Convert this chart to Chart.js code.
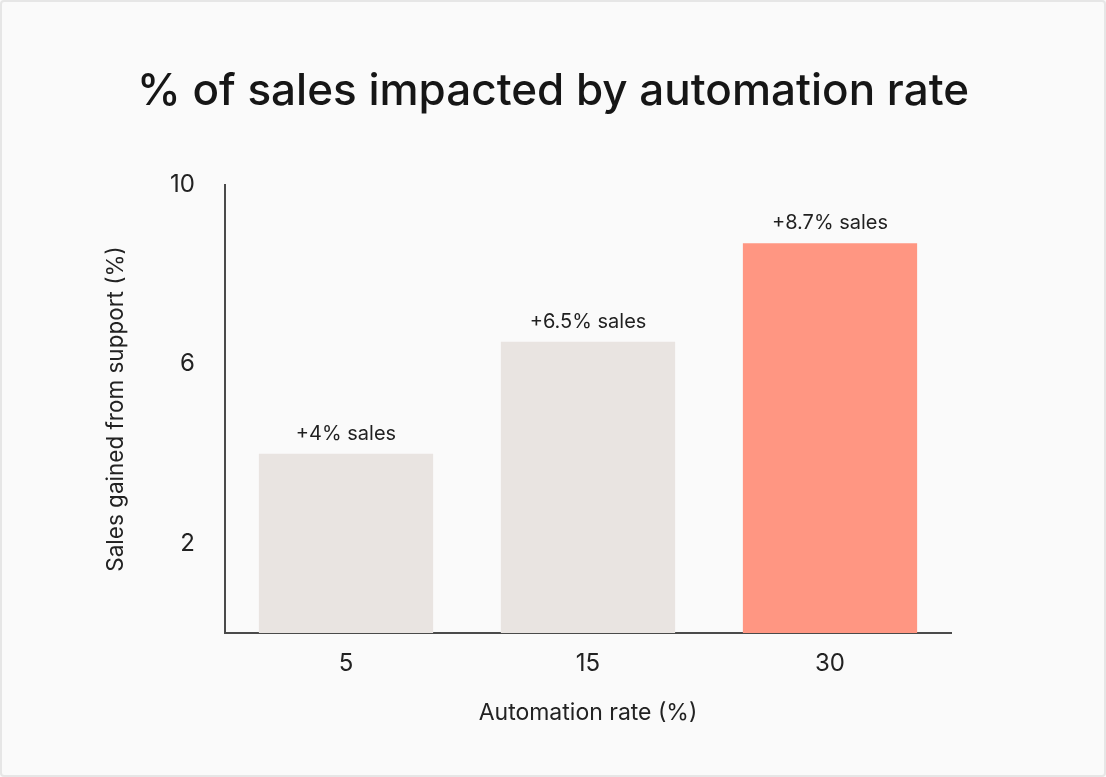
<!DOCTYPE html>
<html>
<head>
<meta charset="utf-8">
<script src="https://cdn.jsdelivr.net/npm/chart.js@4"></script>
<style>
  html, body { margin: 0; padding: 0; background: #fafafa; }
  #wrap { position: relative; width: 1106px; height: 777px; }
  #frame { position: absolute; left: 0; top: 0; right: 0; bottom: 0; border: 2px solid #e6e6e6; border-radius: 4px; pointer-events: none; }
</style>
</head>
<body>
<div id="wrap">
  <canvas id="result_chart"></canvas>
  <div id="frame"></div>
</div>
<script>
var chartTitle = '% of sales impacted by automation rate';
var categories = ['5', '15', '30'];
var salesGained = [4, 6.5, 8.7];
var barLabels = ['+4% sales', '+6.5% sales', '+8.7% sales'];
var yTicks = [2, 6, 10];

// title centred on the whole canvas, not just the plot box
var titlePlugin = {
	id: 'pageTitle',
	afterDraw: function (chart) {
		var ctx = chart.ctx
		ctx.save()
		ctx.font = '500 44px Inter'
		ctx.fillStyle = '#161616'
		ctx.textAlign = 'center'
		ctx.textBaseline = 'middle'
		ctx.fillText(chartTitle, chart.width / 2, 92)
		ctx.restore()
	}
};

var barLabelPlugin = {
	id: 'barLabels',
	afterDatasetsDraw: function (chart) {
		var ctx = chart.ctx
		var meta = chart.getDatasetMeta(0)
		ctx.save()
		ctx.font = '20px Inter'
		ctx.fillStyle = '#1f1f1f'
		ctx.textAlign = 'center'
		ctx.textBaseline = 'alphabetic'
		meta.data.forEach(function (bar, i) {
			ctx.fillText(barLabels[i], bar.x, bar.y - 14)
		})
		ctx.restore()
	}
};

var config = {
	type: 'bar',
	data: {
		labels: categories,
		datasets: [{
			data: salesGained,
			backgroundColor: ['#e9e4e1', '#e9e4e1', '#ff9682'],
			borderWidth: 0,
			categoryPercentage: 0.72,
			barPercentage: 1,
			label: 'Sales gained'
		}]
	},
	options: {
		responsive: true,
		maintainAspectRatio: false,
		animation: false,
		layout: {
			padding: { left: 99, right: 155, top: 185, bottom: 46 }
		},
		plugins: {
			legend: { display: false },
			tooltip: { enabled: false },
			title: { display: false }
		},
		scales: {
			x: {
				grid: { display: false },
				border: { display: true, color: '#4a4a4a', width: 2 },
				ticks: { color: '#222', font: { family: 'Inter', size: 24 }, padding: 8 },
				title: {
					display: true,
					text: 'Automation rate (%)',
					color: '#222',
					font: { family: 'Inter', size: 23 }
				},
				afterFit: function (s) { s.height = 98 }
			},
			y: {
				min: 0,
				max: 10,
				grid: { display: false },
				border: { display: true, color: '#4a4a4a', width: 2 },
				afterBuildTicks: function (s) {
					s.ticks = yTicks.map(function (v) { return { value: v } })
				},
				ticks: { color: '#222', font: { family: 'Inter', size: 24 }, padding: 22 },
				title: {
					display: true,
					text: 'Sales gained from support (%)',
					color: '#222',
					font: { family: 'Inter', size: 22.5 }
				},
				afterFit: function (s) { s.width = 126 }
			}
		}
	},
	plugins: [barLabelPlugin, titlePlugin]
};

var ctx = document.getElementById('result_chart')
var chart = new Chart(ctx, config)
</script>
</body>
</html>
